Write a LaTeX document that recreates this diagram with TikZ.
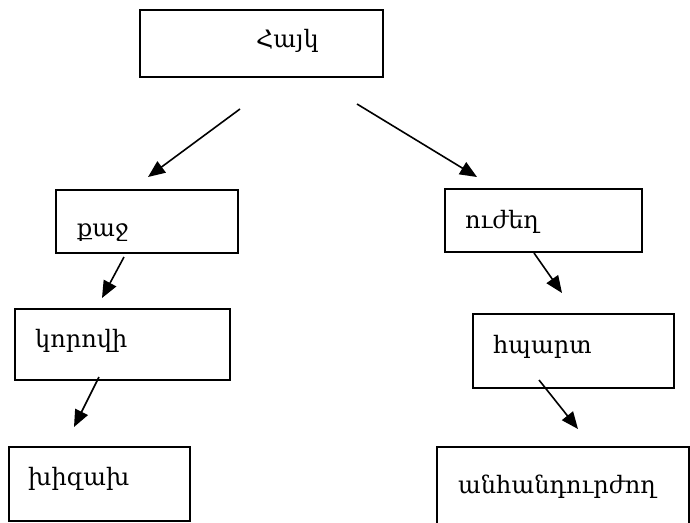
\documentclass[tikz,border=0pt]{standalone}
\usepackage{fontspec}
\setmainfont{DejaVu Serif}
\usetikzlibrary{arrows.meta}
\begin{document}
\begin{tikzpicture}[x=1pt,y=-1pt,
  box/.style={draw,line width=1.7pt},
  lbl/.style={anchor=base west,inner sep=0pt,font=\fontsize{24}{28}\selectfont},
  arr/.style={line width=1.6pt,-{Triangle[length=17pt,width=14pt]}}]
\useasboundingbox (0,0) rectangle (690,522);
\clip (0,0) rectangle (690,522);
% boxes
\node[box,minimum width=243pt,minimum height=67pt,anchor=north west] (b0) at (139,9) {};
\node[box,minimum width=182pt,minimum height=63pt,anchor=north west] (b1) at (55,189) {};
\node[box,minimum width=197pt,minimum height=63pt,anchor=north west] (b2) at (444,188) {};
\node[box,minimum width=215pt,minimum height=71pt,anchor=north west] (b3) at (14,308) {};
\node[box,minimum width=201pt,minimum height=74pt,anchor=north west] (b4) at (472,313) {};
\node[box,minimum width=181pt,minimum height=74pt,anchor=north west] (b5) at (8,446) {};
\node[box,minimum width=252pt,minimum height=94pt,anchor=north west] (b6) at (436,446) {};
% labels
\node[lbl] (t0) at (256,47) {Հայկ};
\node[lbl] (t1) at (77,236) {քաջ};
\node[lbl] (t2) at (465,228) {ուժեղ};
\node[lbl] (t3) at (35,347) {կորովի};
\node[lbl] (t4) at (493,353) {հպարտ};
\node[lbl] (t5) at (28,485) {խիզախ};
\node[lbl] (t6) at (458,493) {անհանդուրժող};
% arrows
\coordinate (a1s) at (240,109); \coordinate (a1e) at (148,177);
\coordinate (a2s) at (357,104); \coordinate (a2e) at (477,177);
\coordinate (a3s) at (124,257); \coordinate (a3e) at (102,298);
\coordinate (a4s) at (534,253); \coordinate (a4e) at (562,293);
\coordinate (a5s) at (99,377); \coordinate (a5e) at (74,427);
\coordinate (a6s) at (539,380); \coordinate (a6e) at (578,429);
\draw[arr] (a1s) -- (a1e);
\draw[arr] (a2s) -- (a2e);
\draw[arr] (a3s) -- (a3e);
\draw[arr] (a4s) -- (a4e);
\draw[arr] (a5s) -- (a5e);
\draw[arr] (a6s) -- (a6e);
\end{tikzpicture}
\end{document}
